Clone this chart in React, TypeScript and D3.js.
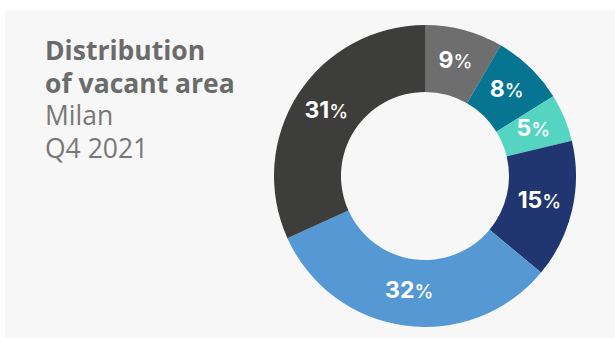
import React from "react";
import * as d3 from "d3";

const categories = ["A", "B", "C", "D", "E", "F"];
const values = [8.35, 7.8, 5.1, 14.8, 32.2, 31.75];
const labels = ["9", "8", "5", "15", "32", "31"];
const colors = ["#6e6e6e", "#077592", "#55d5c1", "#213670", "#5698d3", "#3d3d3c"];
const titleLines = ["Distribution", "of vacant area"];
const subLines = ["Milan", "Q4 2021"];

export default function App() {
  const W = 615, H = 338;
  const cx = 425, cy = 176, R = 151, r = 84;
  const data = categories.map((c, i) => ({ c, v: values[i], label: labels[i], color: colors[i] }));
  const pie = d3.pie<any>().value((d) => d.v).sort(null);
  const arcs = pie(data);
  const arc = d3.arc<any>().innerRadius(r).outerRadius(R);
  return (
    <svg width={W} height={H} style={{ position: "absolute", left: 0, top: 0 }}>
      <rect x={0} y={0} width={W} height={H} fill="#ffffff" />
      <rect x={5} y={10} width={W - 5} height={H - 10} fill="#f7f7f7" />
      <g fontFamily="'Open Sans', sans-serif">
        {titleLines.map((t, i) => (
          <text key={t} x={45} y={60 + i * 32.5} fontSize={26.5} fontWeight={700} fill="#6b6b6b">{t}</text>
        ))}
        {subLines.map((t, i) => (
          <text key={t} x={45} y={125 + i * 32.5} fontSize={26.5} fontWeight={400} fill="#777777">{t}</text>
        ))}
      </g>
      <g transform={`translate(${cx},${cy})`}>
        {arcs.map((a, i) => (
          <path key={i} d={arc(a) as string} fill={a.data.color} />
        ))}
        {arcs.map((a, i) => {
          const [x, y] = arc.centroid(a);
          return (
            <text key={"t" + i} x={x} y={y} dy="0.36em" textAnchor="middle" fill="#ffffff" fontFamily="Inter, 'Open Sans', sans-serif">
              <tspan fontSize={23} fontWeight={700}>{a.data.label}</tspan>
              <tspan fontSize={19} fontWeight={500}>%</tspan>
            </text>
          );
        })}
      </g>
    </svg>
  );
}
